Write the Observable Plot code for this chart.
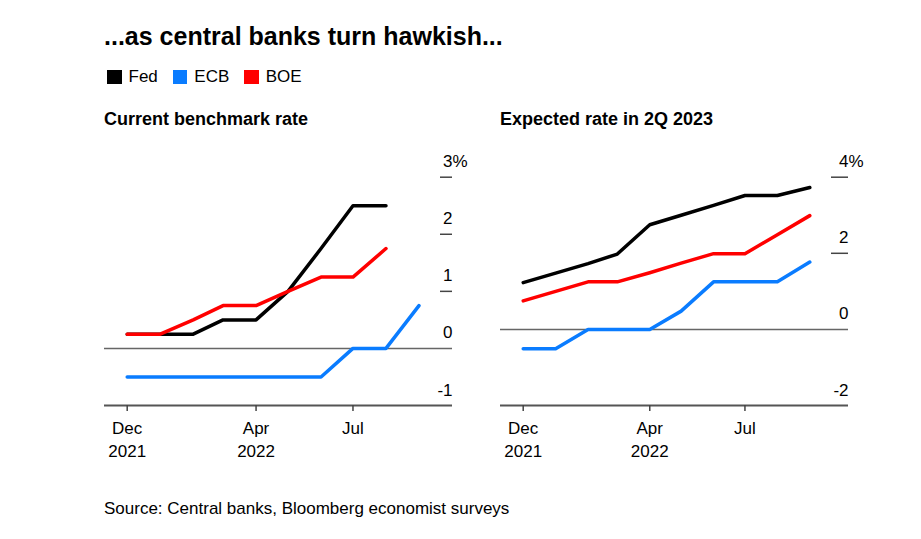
<!DOCTYPE html>
<html><head><meta charset="utf-8">
<script src="https://cdn.jsdelivr.net/npm/d3@7"></script>
<script src="https://cdn.jsdelivr.net/npm/@observablehq/plot@0.6"></script>
<style>
body{margin:0;background:#fff;}
#root{position:relative;width:921px;height:539px;font-family:"Liberation Sans",Arial,Helvetica,sans-serif;color:#000;overflow:hidden;background:#fff}
.abs{position:absolute;line-height:1;white-space:nowrap}
.legend{display:flex;align-items:center;font-size:17px}
.legend .sw{display:inline-block;width:14.5px;height:14px;margin-right:7px}
.legend .it{display:flex;align-items:center;margin-right:15px}
</style></head><body><div id="root"></div>
<script>
// ---- data ----
const months = ["2021-12-01","2022-01-01","2022-02-01","2022-03-01","2022-04-01","2022-05-01","2022-06-01","2022-07-01","2022-08-01","2022-09-01"];
const banks = ["Fed","ECB","BOE"];
const bankColors = ["#000000","#0a7cff","#ff0000"];

// Current benchmark rate (%)
const fedCurrent = [0.25,0.25,0.25,0.5,0.5,1.0,1.75,2.5,2.5,null];
const ecbCurrent = [-0.5,-0.5,-0.5,-0.5,-0.5,-0.5,-0.5,0,0,0.75];
const boeCurrent = [0.25,0.25,0.5,0.75,0.75,1.0,1.25,1.25,1.75,null];

// Expected rate in 2Q 2023 (%)
const fedExpected = [1.23,1.48,1.73,1.98,2.75,3.0,3.26,3.52,3.52,3.73];
const ecbExpected = [-0.51,-0.51,0,0,0,0.48,1.25,1.25,1.25,1.77];
const boeExpected = [0.75,1.0,1.25,1.25,1.49,1.74,1.99,1.99,2.49,2.99];

const xTickDates = ["2021-12-01","2022-04-01","2022-07-01"];
const xTickLabels = ["Dec\n2021","Apr\n2022","Jul"];

const leftYTicks = [3,2,1,0,-1];
const rightYTicks = [4,2,0,-2];

const titleText = "...as central banks turn hawkish...";
const leftSubtitle = "Current benchmark rate";
const rightSubtitle = "Expected rate in 2Q 2023";
const sourceText = "Source: Central banks, Bloomberg economist surveys";

// ---- layout ----
const root = document.getElementById("root");
function addDiv(text, css) {
  const d = document.createElement("div");
  d.className = "abs";
  d.textContent = text;
  Object.assign(d.style, css);
  root.appendChild(d);
  return d;
}
addDiv(titleText, {left:"104px", top:"24px", fontSize:"25px", fontWeight:"bold"});

const leg = document.createElement("div");
leg.className = "abs legend";
Object.assign(leg.style, {left:"107px", top:"68px"});
banks.forEach((b,i) => {
  const it = document.createElement("span"); it.className = "it";
  const sw = document.createElement("span"); sw.className = "sw"; sw.style.background = bankColors[i];
  const t = document.createElement("span"); t.textContent = b;
  it.appendChild(sw); it.appendChild(t); leg.appendChild(it);
});
root.appendChild(leg);

addDiv(leftSubtitle, {left:"104px", top:"110px", fontSize:"18px", fontWeight:"bold"});
addDiv(rightSubtitle, {left:"500px", top:"110px", fontSize:"18px", fontWeight:"bold"});
addDiv(sourceText, {left:"104px", top:"500px", fontSize:"17px"});

function rowsFor(seriesArrays) {
  const rows = [];
  seriesArrays.forEach((arr, si) => arr.forEach((v, i) => {
    if (v != null) rows.push({date: new Date(months[i]), value: v, bank: banks[si]});
  }));
  return rows;
}

function panel({series, yTicks, xRange, tickLen, left}) {
  const rows = rowsFor(series);
  const yDomain = [d3.min(yTicks), d3.max(yTicks)];
  const W = 380, H = 320, mL = 4, mR = 28;
  const frameW = W - mL - mR;
  const upper = yTicks.filter(v => v > 0);
  const svg = Plot.plot({
    width: W, height: H, marginLeft: mL, marginRight: mR, marginTop: 20, marginBottom: 65,
    style: {fontFamily: '"Liberation Sans",Arial,sans-serif', fontSize: "17px", color: "#000", background: "transparent", overflow: "visible"},
    x: {type: "utc", domain: [new Date(months[0]), new Date(months[months.length-1])], range: xRange},
    y: {domain: yDomain, range: [255, 26.7], axis: null},
    color: {domain: banks, range: bankColors},
    marks: [
      Plot.ruleY([yDomain[0]], {stroke: "#555", strokeWidth: 2}),
      Plot.ruleY([0], {stroke: "#666", strokeWidth: 1.5}),
      Plot.ruleY(upper, {stroke: "#444", strokeWidth: 1.5, insetLeft: frameW - tickLen}),
      Plot.axisX({ticks: xTickDates.map(d => new Date(d)), tickFormat: (d) => xTickLabels[xTickDates.findIndex(t => +new Date(t) === +d)], tickSize: 6, tickPadding: 6, lineHeight: 1.37, stroke: "#444", strokeWidth: 1.5, color: "#000", fontSize: 17}),
      Plot.line(rows, {x: "date", y: "value", z: "bank", stroke: "bank", strokeWidth: 3.5}),
      Plot.text(yTicks, {y: d => d, text: d => String(d), frameAnchor: "right", textAnchor: "end", lineAnchor: "bottom", dy: -10, fill: "#000", fontSize: 17}),
      Plot.text([yDomain[1]], {y: d => d, text: () => "%", frameAnchor: "right", textAnchor: "start", lineAnchor: "bottom", dy: -10, fill: "#000", fontSize: 17})
    ]
  });
  svg.style.position = "absolute";
  svg.style.left = left + "px";
  svg.style.top = "150px";
  root.appendChild(svg);
}

panel({series: [fedCurrent, ecbCurrent, boeCurrent], yTicks: leftYTicks, xRange: [26.7, 318.5], tickLen: 12, left: 100});
panel({series: [fedExpected, ecbExpected, boeExpected], yTicks: rightYTicks, xRange: [26.7, 313.3], tickLen: 17, left: 496});
</script>
</body></html>
